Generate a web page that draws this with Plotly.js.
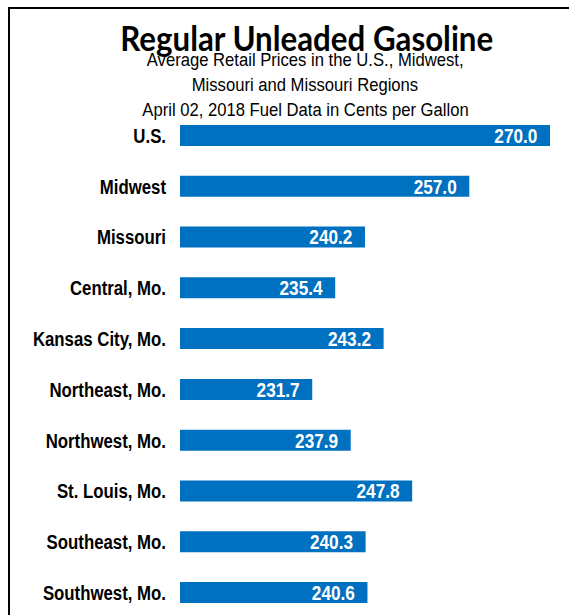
<!DOCTYPE html>
<html>
<head>
<meta charset="utf-8">
<script src="https://cdn.plot.ly/plotly-3.0.1.min.js"></script>
<style>
  html, body { margin: 0; padding: 0; background: #fff; }
  #chart { width: 569px; height: 615px; }
</style>
</head>
<body>
<div id="chart"></div>
<script>
const categories = ["U.S.", "Midwest", "Missouri", "Central, Mo.", "Kansas City, Mo.",
  "Northeast, Mo.", "Northwest, Mo.", "St. Louis, Mo.", "Southeast, Mo.", "Southwest, Mo."];
const prices = [270.0, 257.0, 240.2, 235.4, 243.2, 231.7, 237.9, 247.8, 240.3, 240.6];
const titleText = "Regular Unleaded Gasoline";
const subtitleLines = ["Average Retail Prices in the U.S., Midwest,",
  "Missouri and Missouri Regions",
  "April 02, 2018 Fuel Data in Cents per Gallon"];

const W = 569, H = 615;
const M = {l: 180, r: 19, t: 110, b: 5};
const pw = W - M.l - M.r, ph = H - M.t - M.b;
const px2x = x => (x - M.l) / pw;
const px2y = y => 1 - (y - M.t) / ph;

const sans = "'Liberation Sans', Arial, sans-serif";

const trace = {
  type: "bar",
  orientation: "h",
  y: categories,
  x: prices,
  marker: {color: "#0070C0", line: {width: 0}},
  text: prices.map(v => v.toFixed(1) + "\u00a0\u00a0"),
  textposition: "inside",
  insidetextanchor: "end",
  textangle: 0,
  insidetextfont: {family: sans, size: 21, color: "#ffffff", weight: "bold"},
  constraintext: "none",
  hoverinfo: "none",
  cliponaxis: false
};

const annotations = [
  {text: titleText, xref: "paper", yref: "paper", x: px2x(306), y: px2y(37.5),
   xanchor: "center", yanchor: "middle", showarrow: false,
   font: {family: "Lato, 'Open Sans', sans-serif", size: 34, color: "#000", weight: "bold"}}
];
const subY = [59.5, 85, 109];
subtitleLines.forEach((t, i) => annotations.push({
  text: t, xref: "paper", yref: "paper", x: px2x(305), y: px2y(subY[i]),
  xanchor: "center", yanchor: "middle", showarrow: false,
  font: {family: sans, size: 18.5, color: "#000"}
}));

const shapes = [
  {type: "line", xref: "paper", yref: "paper", x0: px2x(8), x1: px2x(575), y0: px2y(8), y1: px2y(8),
   line: {color: "#000", width: 2}},
  {type: "line", xref: "paper", yref: "paper", x0: px2x(9), x1: px2x(9), y0: px2y(8), y1: px2y(620),
   line: {color: "#000", width: 2}}
];

const layout = {
  width: W, height: H,
  margin: M,
  paper_bgcolor: "#ffffff",
  plot_bgcolor: "#ffffff",
  showlegend: false,
  bargap: 0.587,
  xaxis: {range: [210.4, 270], visible: false, fixedrange: true},
  yaxis: {
    type: "category",
    range: [9.343, -0.5],
    showgrid: false, zeroline: false, showline: false,
    ticks: "", ticklabelstandoff: 13,
    tickfont: {family: sans, size: 21, color: "#000", weight: "bold"},
    fixedrange: true
  },
  annotations: annotations,
  shapes: shapes
};

// Horizontal condensing of rendered text (emulates a narrow typeface)
function squeeze(el, k, mode) {
  const bb = el.getBBox();
  let ax = bb.x + bb.width / 2;
  if (mode === "end") ax = bb.x + bb.width;
  if (mode === "start") ax = bb.x;
  const prev = el.getAttribute("transform") || "";
  el.setAttribute("transform", prev + " translate(" + ax + ",0) scale(" + k + ",1) translate(" + (-ax) + ",0)");
}

Plotly.newPlot("chart", [trace], layout, {displayModeBar: false, staticPlot: true}).then(gd => {
  gd.querySelectorAll("g.ytick text").forEach(t => squeeze(t, 0.8, "end"));
  gd.querySelectorAll("text.bartext").forEach(t => squeeze(t, 0.82, "end"));
  const ann = gd.querySelectorAll("g.annotation text.annotation-text");
  ann.forEach((t, i) => squeeze(t, i === 0 ? 0.92 : 0.9, "middle"));
});
</script>
</body>
</html>
